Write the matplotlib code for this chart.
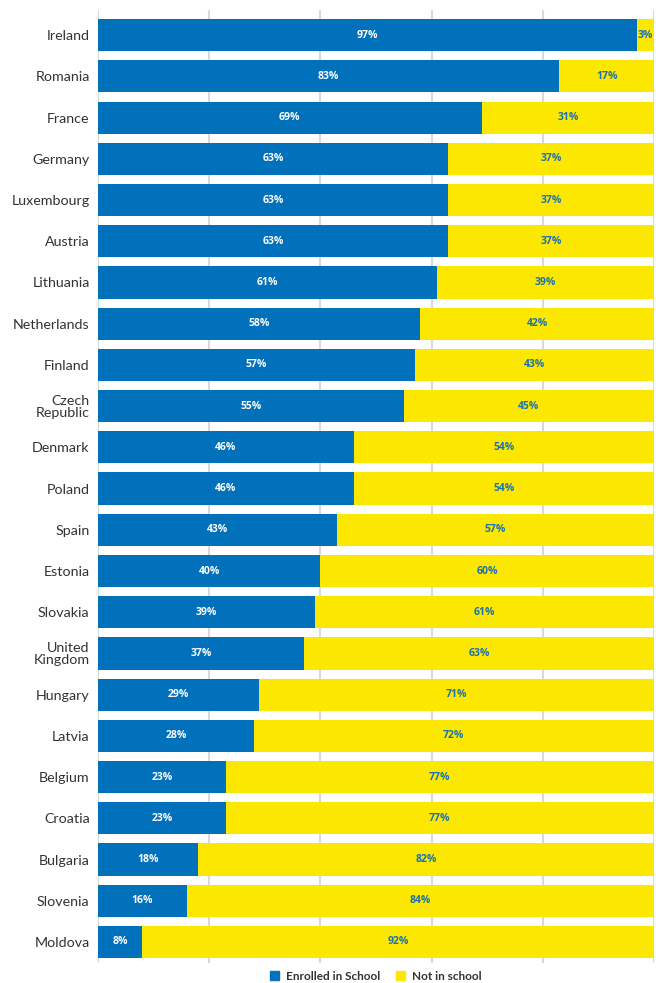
import matplotlib.pyplot as plt
from matplotlib.patches import Patch

plt.rcParams['font.family'] = ['Lato', 'DejaVu Sans']

countries = ['Ireland', 'Romania', 'France', 'Germany', 'Luxembourg', 'Austria',
             'Lithuania', 'Netherlands', 'Finland', 'Czech\nRepublic', 'Denmark',
             'Poland', 'Spain', 'Estonia', 'Slovakia', 'United\nKingdom', 'Hungary',
             'Latvia', 'Belgium', 'Croatia', 'Bulgaria', 'Slovenia', 'Moldova']
enrolled = [97, 83, 69, 63, 63, 63, 61, 58, 57, 55, 46, 46, 43, 40, 39, 37,
            29, 28, 23, 23, 18, 16, 8]
not_in_school = [3, 17, 31, 37, 37, 37, 39, 42, 43, 45, 54, 54, 57, 60, 61, 63,
                 71, 72, 77, 77, 82, 84, 92]

blue = '#0071BA'
yellow = '#FBE700'

fig = plt.figure(figsize=(6.56, 9.83), dpi=100)
ax = fig.add_axes([98 / 656, 20 / 983, 556 / 656, 953 / 983])

y = range(len(countries))
ax.barh(y, enrolled, height=0.78, color=blue, zorder=2)
ax.barh(y, not_in_school, left=enrolled, height=0.78, color=yellow, zorder=2)

# percentage labels in the middle of each segment
label_font = {'family': ['Open Sans', 'DejaVu Sans'], 'size': 7.5, 'weight': 'bold'}
for i in y:
    ax.text(enrolled[i] / 2, i, f'{enrolled[i]}%', ha='center', va='center',
            color='white', fontdict=label_font, zorder=3)
    ax.text(enrolled[i] + not_in_school[i] / 2, i, f'{not_in_school[i]}%',
            ha='center', va='center', color='#1a72ad', fontdict=label_font,
            zorder=3)

ax.set_xlim(0, 100)
ax.set_ylim(len(countries) - 0.49, -0.61)
ax.set_yticks(list(y))
ax.set_yticklabels(countries, fontsize=10.3, color='#333333', linespacing=0.95)
ax.set_xticks([0, 20, 40, 60, 80, 100])
ax.set_xticklabels([])
ax.tick_params(axis='y', length=0, pad=6)
ax.tick_params(axis='x', length=0)
ax.grid(axis='x', color='#d9d9d9', linewidth=1.5, zorder=0)
for s in ax.spines.values():
    s.set_visible(False)

handles = [Patch(color=blue, label='Enrolled in School'),
           Patch(color=yellow, label='Not in school')]
fig.legend(handles=handles, loc='lower center', bbox_to_anchor=(0.573, -0.006),
           ncol=2, frameon=False, handlelength=0.75, handleheight=0.75,
           columnspacing=1.3, handletextpad=0.6, borderpad=0.1,
           prop={'size': 8.5, 'weight': 'bold'}, labelcolor='#333333')

fig.savefig('out.png', dpi=100)
